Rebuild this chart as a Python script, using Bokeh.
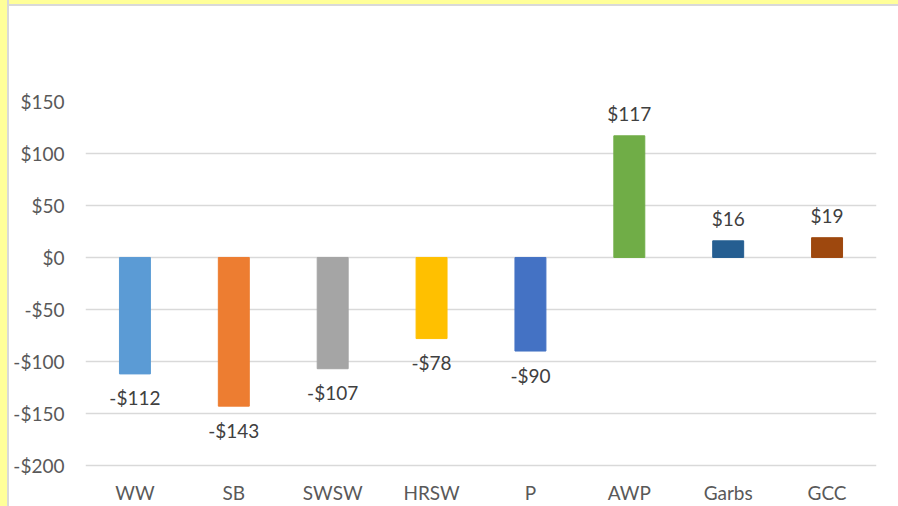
from bokeh.plotting import figure
from bokeh.models import ColumnDataSource, FactorRange, LabelSet, FixedTicker, Range1d
from bokeh.core.properties import value
from bokeh.embed import file_html
from bokeh.resources import INLINE

categories = ["WW", "SB", "SWSW", "HRSW", "P", "AWP", "Garbs", "GCC"]
values = [-112, -143, -107, -78, -90, 117, 16, 19]
colors = ["#5B9BD5", "#ED7D31", "#A5A5A5", "#FFC000", "#4472C4", "#70AD47", "#255E91", "#9E480E"]
y_ticks = [-200, -150, -100, -50, 0, 50, 100, 150]
y_tick_labels = ["-$200", "-$150", "-$100", "-$50", "$0", "$50", "$100", "$150"]

FONT = "Lato"
FS = "19px"

labels = [("-$%d" % abs(v)) if v < 0 else ("$%d" % v) for v in values]
offsets = [-24 if v < 0 else 22 for v in values]

src = ColumnDataSource(dict(cat=categories, val=values, color=colors,
                            label=labels, off=offsets))

p = figure(x_range=FactorRange(*categories), y_range=Range1d(-202, 150),
           width=898, height=506, output_backend="svg", toolbar_location=None,
           min_border_left=76, min_border_right=31, min_border_top=95, min_border_bottom=45)

p.styles = {
    "padding-left": "9px",
    "padding-top": "6px",
    "background": ("linear-gradient(to right, #FFFF99 0px, #FFFF99 7px, #D9D9D9 7px, #D9D9D9 9px, transparent 9px), "
                   "linear-gradient(to bottom, #FFFF99 0px, #FFFF99 4px, #D9D9D9 4px, #D9D9D9 6px, transparent 6px), "
                   "white"),
}

p.vbar(x="cat", top="val", bottom=0, width=0.313, color="color", source=src)

p.background_fill_color = "white"
p.border_fill_color = "white"
p.outline_line_color = None
p.xgrid.grid_line_color = None
p.ygrid.grid_line_color = "#D9D9D9"
p.ygrid.grid_line_width = 1.5

p.yaxis.ticker = FixedTicker(ticks=y_ticks)
p.yaxis.major_label_overrides = {t: l for t, l in zip(y_ticks, y_tick_labels)}
p.yaxis.axis_line_color = None
p.yaxis.major_tick_line_color = None
p.yaxis.minor_tick_line_color = None
p.yaxis.major_tick_out = 0
p.yaxis.major_label_standoff = 21
p.yaxis.major_label_text_font = FONT
p.yaxis.major_label_text_font_size = FS
p.yaxis.major_label_text_color = "#595959"

p.xaxis.axis_line_color = None
p.xaxis.major_tick_line_color = None
p.xaxis.major_tick_out = 0
p.xaxis.major_label_standoff = 13
p.xaxis.major_label_text_font = FONT
p.xaxis.major_label_text_font_size = FS
p.xaxis.major_label_text_color = "#595959"

data_labels = LabelSet(x="cat", y="val", text="label", y_offset="off", source=src,
                       text_align="center", text_baseline="middle",
                       text_font=value(FONT), text_font_size=FS, text_color="#404040")
p.add_layout(data_labels)

open("out.html", "w").write(file_html(p, INLINE))
